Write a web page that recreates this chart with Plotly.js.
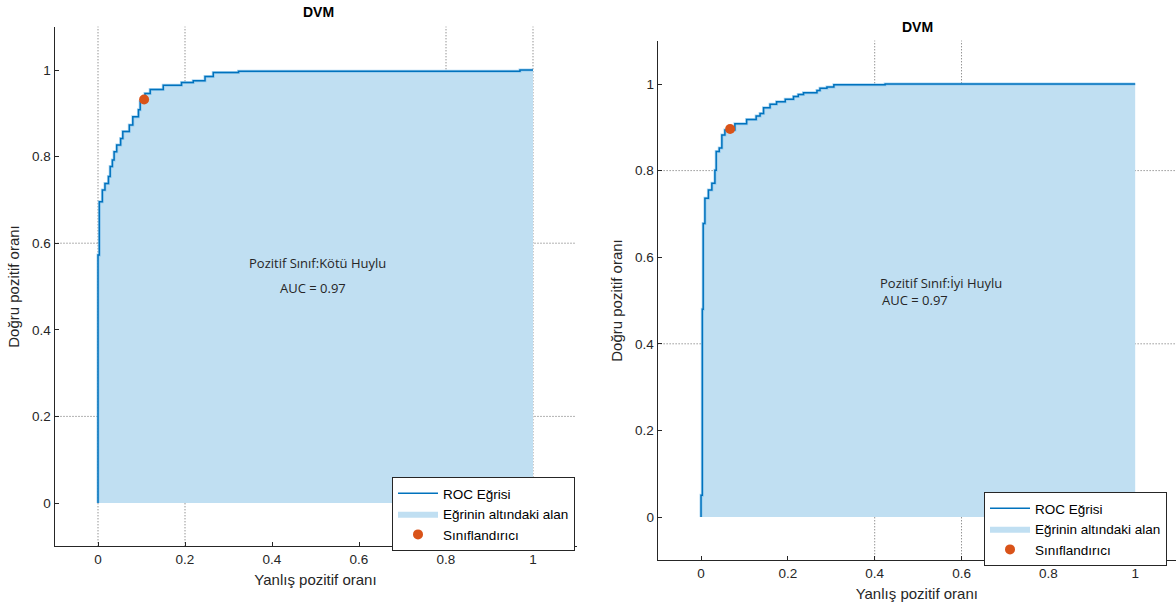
<!DOCTYPE html>
<html>
<head>
<meta charset="utf-8">
<script src="https://cdn.plot.ly/plotly-3.0.1.min.js"></script>
<style>html,body{margin:0;padding:0;background:#fff;}#chart{width:1176px;height:605px;}</style>
</head>
<body>
<div id="chart"></div>
<script>
// ---- Data ----
const chartTitle = "DVM";
const xLabel = "Yanlış pozitif oranı";
const yLabel = "Doğru pozitif oranı";
const legendNames = ["ROC Eğrisi", "Eğrinin altındaki alan", "Sınıflandırıcı"];

// Left panel: positive class "Kötü Huylu"
const leftClassText = "Pozitif Sınıf:Kötü Huylu";
const leftAucText = "AUC = 0.97";
const leftFpr = [0, 0, 0.003, 0.010, 0.016, 0.024, 0.028, 0.033, 0.037, 0.043, 0.052, 0.057, 0.072, 0.080, 0.093, 0.097, 0.108, 0.120, 0.150, 0.192, 0.219, 0.246, 0.265, 0.323, 0.970, 1];
const leftTpr = [0, 0.573, 0.696, 0.723, 0.738, 0.754, 0.777, 0.792, 0.811, 0.827, 0.842, 0.858, 0.873, 0.892, 0.908, 0.927, 0.946, 0.955, 0.965, 0.971, 0.975, 0.985, 0.994, 0.997, 1.0, 1.0];
const leftOptFpr = [0.106];
const leftOptTpr = [0.932];

// Right panel: positive class "İyi Huylu"
const rightClassText = "Pozitif Sınıf:İyi Huylu";
const rightAucText = "AUC = 0.97";
const rightFpr = [0, 0, 0.003, 0.005, 0.009, 0.017, 0.025, 0.032, 0.035, 0.042, 0.048, 0.055, 0.078, 0.105, 0.127, 0.136, 0.144, 0.159, 0.174, 0.194, 0.213, 0.224, 0.236, 0.267, 0.274, 0.290, 0.306, 0.424, 1];
const rightTpr = [0, 0.05, 0.48, 0.678, 0.736, 0.755, 0.771, 0.801, 0.844, 0.852, 0.882, 0.894, 0.908, 0.918, 0.926, 0.932, 0.945, 0.953, 0.959, 0.965, 0.971, 0.976, 0.980, 0.985, 0.990, 0.993, 0.998, 1.0, 1.0];
const rightOptFpr = [0.067];
const rightOptTpr = [0.896];

const tickVals = [0, 0.2, 0.4, 0.6, 0.8, 1];
const tickText = ["0", "0.2", "0.4", "0.6", "0.8", "1"];
// visible dotted grid lines in each panel
const leftGridX = [0, 0.2, 0.8, 1];
const leftGridY = [0.6, 0.2];
const rightGridX = [0.4, 0.6];
const rightGridY = [0.8, 0.4];

// ---- Styles ----
const lineColor = "#0072BD";
const fillColor = "#C0DFF2";
const markColor = "#D95319";
const axisColor = "#262626";
const baseFont = "Liberation Sans, Arial, sans-serif";

function panelTraces(fpr, tpr, ofpr, otpr, xa, ya, leg) {
  return [
    {x: fpr, y: tpr, type: "scatter", mode: "lines", fill: "tozeroy", fillcolor: fillColor,
     line: {color: fillColor, width: 0, shape: "hv"},
     name: legendNames[1], xaxis: xa, yaxis: ya, legend: leg, legendrank: 2, hoverinfo: "skip"},
    {x: fpr, y: tpr, type: "scatter", mode: "lines", showlegend: false,
     line: {color: "rgba(120,190,235,0.6)", width: 3, shape: "hv"},
     xaxis: xa, yaxis: ya, hoverinfo: "skip"},
    {x: fpr, y: tpr, type: "scatter", mode: "lines",
     line: {color: lineColor, width: 1.5, shape: "hv"},
     name: legendNames[0], xaxis: xa, yaxis: ya, legend: leg, legendrank: 1},
    {x: ofpr, y: otpr, type: "scatter", mode: "markers",
     marker: {color: markColor, size: 10, symbol: "circle"},
     name: legendNames[2], xaxis: xa, yaxis: ya, legend: leg, legendrank: 3}
  ];
}

const data = [].concat(
  panelTraces(leftFpr, leftTpr, leftOptFpr, leftOptTpr, "x", "y", "legend"),
  panelTraces(rightFpr, rightTpr, rightOptFpr, rightOptTpr, "x2", "y2", "legend2")
);

function axis(domain, range, anchor, isX) {
  return {
    domain: domain, range: range, anchor: anchor,
    showline: true, linecolor: axisColor, linewidth: 1, mirror: false,
    ticks: "inside", ticklen: 4, tickcolor: axisColor,
    tickvals: tickVals, ticktext: tickText,
    tickfont: {family: baseFont, size: 13.5, color: axisColor},
    showgrid: false, zeroline: false, automargin: false, fixedrange: true,
    title: {text: isX ? xLabel : yLabel, font: {family: baseFont, size: 15, color: axisColor}, standoff: 8}
  };
}

const W = 1176, H = 605;
const shapes = [];
const gridLine = {color: "#666666", width: 1, dash: "1px,2px"};
function grid(xs, ys, xa, ya) {
  xs.forEach(v => shapes.push({type: "line", xref: xa, yref: ya + " domain", x0: v, x1: v, y0: 0, y1: 1,
    layer: "below", line: gridLine}));
  ys.forEach(v => shapes.push({type: "line", xref: xa + " domain", yref: ya, x0: 0, x1: 1, y0: v, y1: v,
    layer: "below", line: gridLine}));
}
grid(leftGridX, leftGridY, "x", "y");
grid(rightGridX, rightGridY, "x2", "y2");

const annFont = {family: "Open Sans, Noto Sans, sans-serif", size: 13, color: axisColor};
const legendCommon = {xanchor: "left", yanchor: "top", bgcolor: "#fff",
  bordercolor: axisColor, borderwidth: 1, font: {family: baseFont, size: 13.5, color: "#000"},
  tracegroupgap: 0, itemwidth: 40, itemclick: false, itemdoubleclick: false};
const layout = {
  width: W, height: H,
  margin: {l: 0, r: 0, t: 0, b: 0},
  paper_bgcolor: "#fff", plot_bgcolor: "rgba(0,0,0,0)",
  showlegend: true,
  xaxis: axis([54.5 / W, 576.5 / W], [-0.1, 1.1], "y", true),
  yaxis: axis([1 - 546.3 / H, 1 - 26.7 / H], [-0.1, 1.1], "x", false),
  xaxis2: axis([657.6 / W, 1], [-0.1, 1.094], "y2", true),
  yaxis2: axis([1 - 560.3 / H, 1 - 40.7 / H], [-0.1, 1.1], "x2", false),
  legend: Object.assign({x: 392 / W, y: 1 - 477 / H}, legendCommon),
  legend2: Object.assign({x: 984 / W, y: 1 - 492 / H}, legendCommon),
  shapes: shapes,
  annotations: [
    {text: "<b>" + chartTitle + "</b>", xref: "paper", yref: "paper", x: 318 / W, y: 1 - 12 / H,
     xanchor: "center", yanchor: "middle", showarrow: false, font: {family: baseFont, size: 14, color: "#000"}},
    {text: "<b>" + chartTitle + "</b>", xref: "paper", yref: "paper", x: 917 / W, y: 1 - 27 / H,
     xanchor: "center", yanchor: "middle", showarrow: false, font: {family: baseFont, size: 14, color: "#000"}},
    {text: leftClassText, xref: "x", yref: "y", x: 0.343, y: 0.554, xanchor: "left", yanchor: "middle", showarrow: false, font: annFont},
    {text: leftAucText, xref: "x", yref: "y", x: 0.414, y: 0.497, xanchor: "left", yanchor: "middle", showarrow: false, font: annFont},
    {text: rightClassText, xref: "x2", yref: "y2", x: 0.408, y: 0.54, xanchor: "left", yanchor: "middle", showarrow: false, font: annFont},
    {text: rightAucText, xref: "x2", yref: "y2", x: 0.412, y: 0.501, xanchor: "left", yanchor: "middle", showarrow: false, font: annFont}
  ]
};

Plotly.newPlot("chart", data, layout, {displayModeBar: false, staticPlot: true});
</script>
</body>
</html>
